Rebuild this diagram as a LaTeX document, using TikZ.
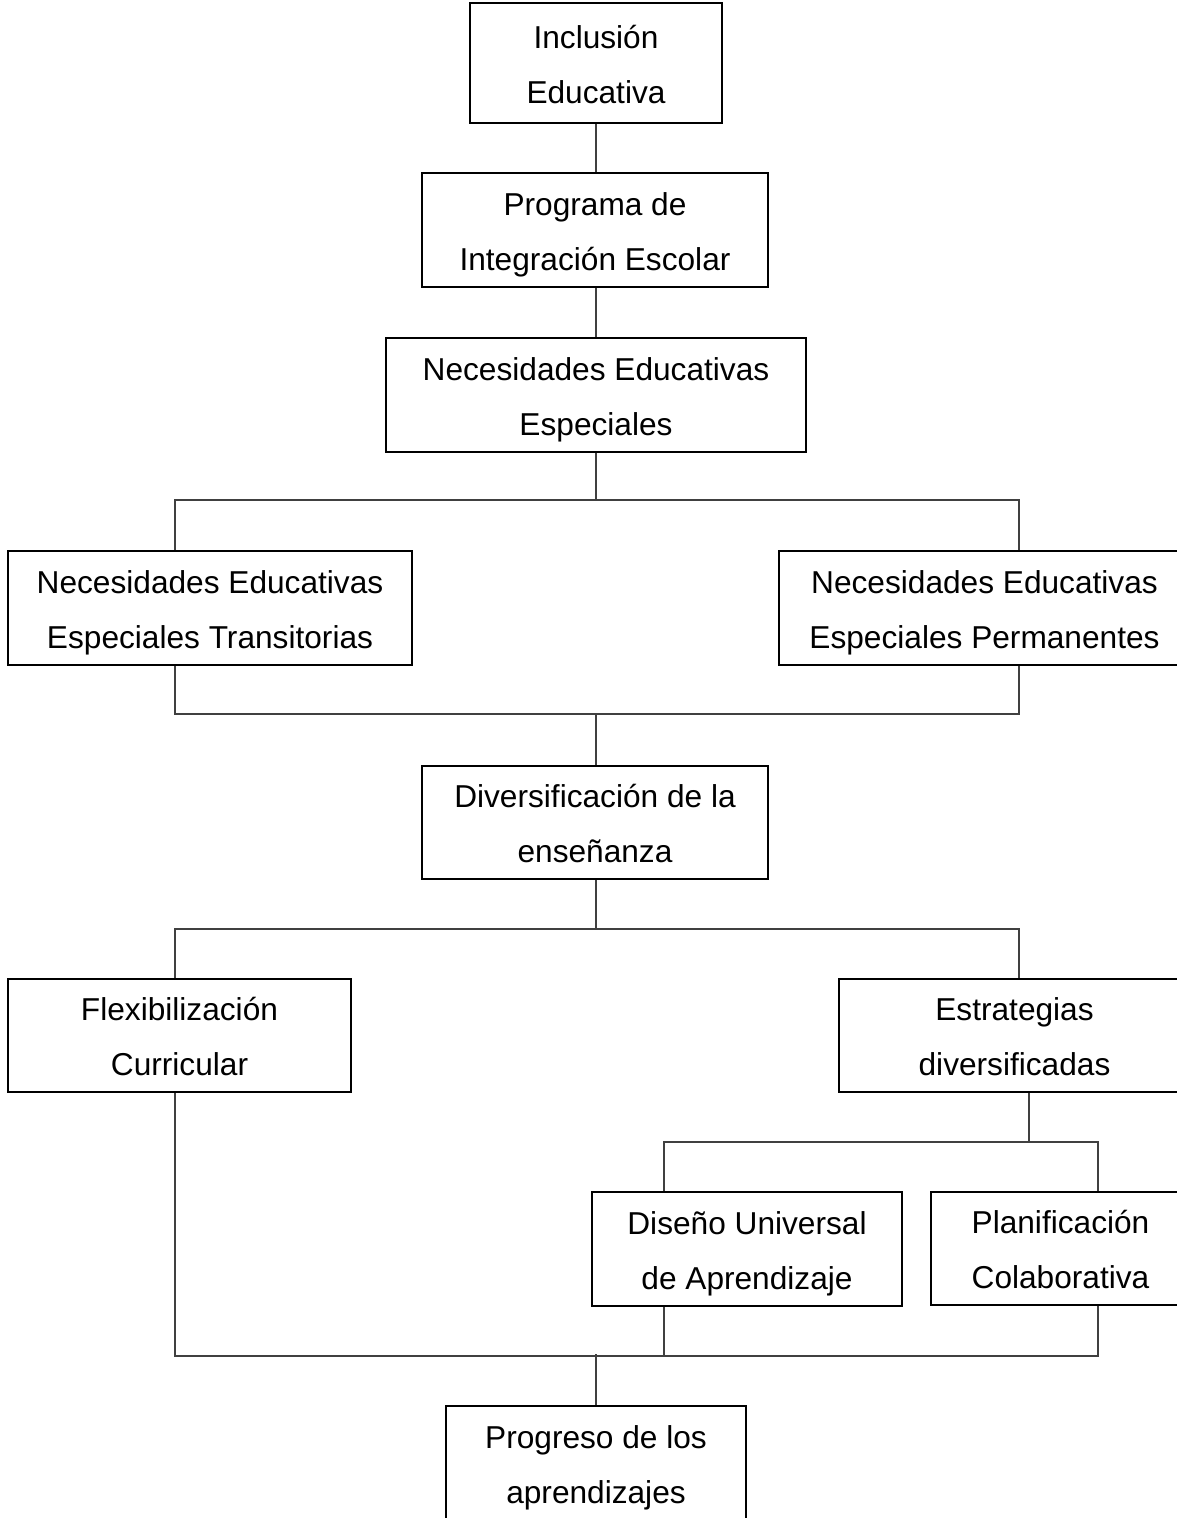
\documentclass[tikz,border=0pt]{standalone}
\usepackage{fontspec}
\setmainfont{Liberation Sans}
\newcommand{\lnstrut}{\rule[-3.9pt]{0pt}{15pt}}

\begin{document}
\begin{tikzpicture}[x=0.01cm, y=-0.01cm,
    box/.style={draw, line width=0.6pt, inner sep=0pt, align=center,
      font=\fontsize{9}{15.6}\selectfont},
    link/.style={draw=black!75, line width=0.35pt}]
  \useasboundingbox (0,0) rectangle (1177,1518);

  % cajas
  \node[box, minimum width=2.52cm, minimum height=1.20cm] (inc) at (596,63) {\lnstrut Inclusión\\\lnstrut Educativa};
  \node[box, minimum width=3.46cm, minimum height=1.14cm] (pie) at (595,230) {\lnstrut Programa de\\\lnstrut Integración Escolar};
  \node[box, minimum width=4.20cm, minimum height=1.14cm] (nee) at (596,395) {\lnstrut Necesidades Educativas\\\lnstrut Especiales};
  \node[box, minimum width=4.04cm, minimum height=1.14cm] (net) at (210,608) {\lnstrut Necesidades Educativas\\\lnstrut Especiales Transitorias};
  \node[box, minimum width=4.11cm, minimum height=1.14cm] (nep) at (984.5,608) {\lnstrut Necesidades Educativas\\\lnstrut Especiales Permanentes};
  \node[box, minimum width=3.46cm, minimum height=1.13cm] (div) at (595,822.5) {\lnstrut Diversificación de la\\\lnstrut enseñanza};
  \node[box, minimum width=3.43cm, minimum height=1.13cm] (flex) at (179.5,1035.5) {\lnstrut Flexibilización\\\lnstrut Curricular};
  \node[box, minimum width=3.51cm, minimum height=1.13cm] (est) at (1014.5,1035.5) {\lnstrut Estrategias\\\lnstrut diversificadas};
  \node[box, minimum width=3.10cm, minimum height=1.14cm] (dua) at (747,1249) {\lnstrut Diseño Universal\\\lnstrut de Aprendizaje};
  \node[box, minimum width=2.59cm, minimum height=1.13cm] (plan) at (1060.5,1248.5) {\lnstrut Planificación\\\lnstrut Colaborativa};
  \node[box, minimum width=3.00cm, minimum height=1.14cm] (prog) at (596,1463) {\lnstrut Progreso de los\\\lnstrut aprendizajes};

  % puntos de union
  \coordinate (r1l) at (175,500);
  \coordinate (r1r) at (1019,500);
  \coordinate (r2l) at (175,714);
  \coordinate (r2r) at (1019,714);
  \coordinate (r3l) at (175,929);
  \coordinate (r3r) at (1019,929);
  \coordinate (r4) at (1029,1142);
  \coordinate (r4l) at (664,1142);
  \coordinate (r4r) at (1098,1142);
  \coordinate (r5l) at (175,1356);
  \coordinate (r5m) at (664,1356);
  \coordinate (r5r) at (1098,1356);

  % conectores
  \draw[link] (inc.south -| 596,0) -- (pie.north -| 596,0);
  \draw[link] (pie.south -| 596,0) -- (nee.north -| 596,0);
  \draw[link] (nee.south) -- (nee.south |- r1l);
  \draw[link] (net.north -| r1l) |- (r1r) -- (r1r |- nep.north);
  \draw[link] (net.south -| r2l) |- (r2r) -- (r2r |- nep.south);
  \draw[link] (div.north -| 596,0) -- (596,714);
  \draw[link] (div.south -| 596,0) -- (596,929);
  \draw[link] (flex.north -| r3l) |- (r3r) -- (r3r |- est.north);
  \draw[link] (est.south -| r4) -- (r4);
  \draw[link] (dua.north -| r4l) |- (r4r) -- (r4r |- plan.north);
  \draw[link] (flex.south -| r5l) -- (r5l) -- (r5r) -- (r5r |- plan.south);
  \draw[link] (dua.south -| r5m) -- (r5m);
  \draw[link] (prog.north) -- (596,1354);
\end{tikzpicture}
\end{document}
